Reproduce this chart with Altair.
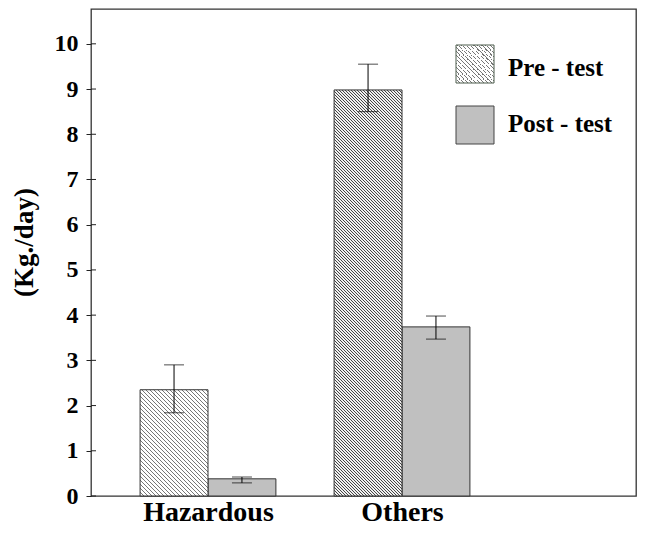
import altair as alt
import pandas as pd

# ---- data ----
categories = ["Hazardous", "Others"]
series = ["Pre - test", "Post - test"]
pre_values = [2.35, 8.98]
pre_low = [1.84, 8.50]
pre_high = [2.90, 9.55]
post_values = [0.38, 3.74]
post_low = [0.29, 3.47]
post_high = [0.42, 3.98]
y_ticks = [0, 1, 2, 3, 4, 5, 6, 7, 8, 9, 10]

# ---- layout constants ----
W, H = 545, 487
Y_MAX = 10.77
X_MIN, X_MAX = 0.397, 3.206
BAR_W = 0.35
FONT = "Liberation Serif"

rows = []
for i, cat in enumerate(categories):
    for j, (s, vals, lo, hi) in enumerate(
        [(series[0], pre_values, pre_low, pre_high), (series[1], post_values, post_low, post_high)]
    ):
        x0 = (i + 1) - BAR_W + BAR_W * j
        rows.append(dict(category=cat, series=s, value=vals[i], lo=lo[i], hi=hi[i],
                         x0=x0, x1=x0 + BAR_W, xc=x0 + BAR_W / 2))
df = pd.DataFrame(rows)

px_x = W / (X_MAX - X_MIN)
px_y = H / Y_MAX


def hatch(w, h, period, lw, ink, paper):
    L = w + h
    k = (w + h) / (w * w + h * h)
    stops = []
    pos = 0.0
    while pos < L:
        a = pos / L
        b = min((pos + period - lw) / L, 1.0)
        c = min((pos + period) / L, 1.0)
        stops += [{"offset": a, "color": paper}, {"offset": b, "color": paper},
                  {"offset": b, "color": ink}, {"offset": c, "color": ink}]
        pos += period
    return {"gradient": "linear", "x1": 0, "y1": 1, "x2": k * w, "y2": 1 - k * h,
            "stops": stops}


xscale = alt.Scale(domain=[X_MIN, X_MAX], nice=False, zero=False)
yscale = alt.Scale(domain=[0, Y_MAX], nice=False)
xaxis = alt.Axis(values=[1, 2], title=None, grid=False, domain=False, ticks=False, tickSize=0,
                 labelExpr="datum.value == 1 ? 'Hazardous' : 'Others'",
                 labelFont=FONT, labelFontSize=28, labelFontWeight="bold", labelColor="black",
                 labelBaseline="alphabetic", labelPadding=24, labelFlush=False,
                 labelOverlap=False)
yaxis = alt.Axis(values=y_ticks, title="(Kg./day)", grid=False, domain=False,
                 tickSize=5, tickColor="#222", labelFont=FONT, labelFontSize=24,
                 labelFontWeight="bold", labelColor="black", labelPadding=8,
                 titleFont=FONT, titleFontSize=27, titleFontWeight="bold", titleColor="black",
                 titleAngle=270, titleX=-67, titleY=233, titleAlign="center",
                 titleBaseline="middle")

base = alt.Chart(df)
X = alt.X("x0:Q", scale=xscale, axis=xaxis)
Y = alt.Y("value:Q", scale=yscale, axis=yaxis)

post = base.transform_filter(alt.datum.series == series[1]).mark_bar(
    fill="#c0c0c0", stroke="#333", strokeWidth=1).encode(x=X, x2="x1:Q", y=Y, y2=alt.datum(0))

pre_layers = []
for i, cat in enumerate(categories):
    h = pre_values[i] * px_y
    w = BAR_W * px_x
    if i == 0:
        g = hatch(w, h, 4.0, 1.0, "#777777", "#ffffff")
    else:
        g = hatch(w, h, 3.0, 1.0, "#444444", "#f0f0f0")
    pre_layers.append(
        base.transform_filter((alt.datum.series == series[0]) & (alt.datum.category == cat))
        .mark_bar(fill=g, stroke="#333", strokeWidth=1)
        .encode(x=X, x2="x1:Q", y=Y, y2=alt.datum(0))
    )

XC = alt.X("xc:Q", scale=xscale, axis=xaxis)
err = base.mark_rule(color="black", strokeWidth=1).encode(
    x=XC, y=alt.Y("lo:Q", scale=yscale, axis=yaxis), y2="hi:Q")
cap_lo = base.mark_tick(orient="horizontal", size=20, thickness=1, color="black").encode(
    x=XC, y=alt.Y("lo:Q", scale=yscale, axis=yaxis))
cap_hi = base.mark_tick(orient="horizontal", size=20, thickness=1, color="black").encode(
    x=XC, y=alt.Y("hi:Q", scale=yscale, axis=yaxis))

inner_ticks = alt.Chart(pd.DataFrame({"t": y_ticks})).mark_rule(color="#222").encode(
    y=alt.Y("t:Q", scale=yscale, axis=yaxis), x=alt.value(0), x2=alt.value(5))

# ---- manual legend ----
leg_df = pd.DataFrame({"series": series})
sw = 38
LX = 365
leg_pre_rect = alt.Chart(leg_df).transform_filter(alt.datum.series == series[0]).mark_rect(
    fill=hatch(sw, sw, 4.0, 1.0, "#777777", "#ffffff"), stroke="#4a5a4a", strokeWidth=1
).encode(x=alt.value(LX), x2=alt.value(LX + sw), y=alt.value(36), y2=alt.value(36 + sw))
leg_post_rect = alt.Chart(leg_df).transform_filter(alt.datum.series == series[1]).mark_rect(
    fill="#c0c0c0", stroke="#444", strokeWidth=1
).encode(x=alt.value(LX), x2=alt.value(LX + sw), y=alt.value(97), y2=alt.value(97 + sw))
leg_pre_text = alt.Chart(leg_df).transform_filter(alt.datum.series == series[0]).mark_text(
    font=FONT, fontSize=25, fontWeight="bold", color="black", align="left", baseline="alphabetic"
).encode(x=alt.value(LX + 52), y=alt.value(67), text="series:N")
leg_post_text = alt.Chart(leg_df).transform_filter(alt.datum.series == series[1]).mark_text(
    font=FONT, fontSize=25, fontWeight="bold", color="black", align="left", baseline="alphabetic"
).encode(x=alt.value(LX + 52), y=alt.value(123), text="series:N")

chart = alt.layer(
    post, *pre_layers, err, cap_lo, cap_hi, inner_ticks,
    leg_pre_rect, leg_post_rect, leg_pre_text, leg_post_text
).properties(
    width=W, height=H, autosize=alt.AutoSizeParams(type="none"),
    padding={"left": 83, "top": 1, "right": 1, "bottom": 31}, background="white"
).configure_view(stroke="#333", strokeWidth=1.3)

chart.save("out.html", embed_options={"renderer": "svg", "actions": False})
